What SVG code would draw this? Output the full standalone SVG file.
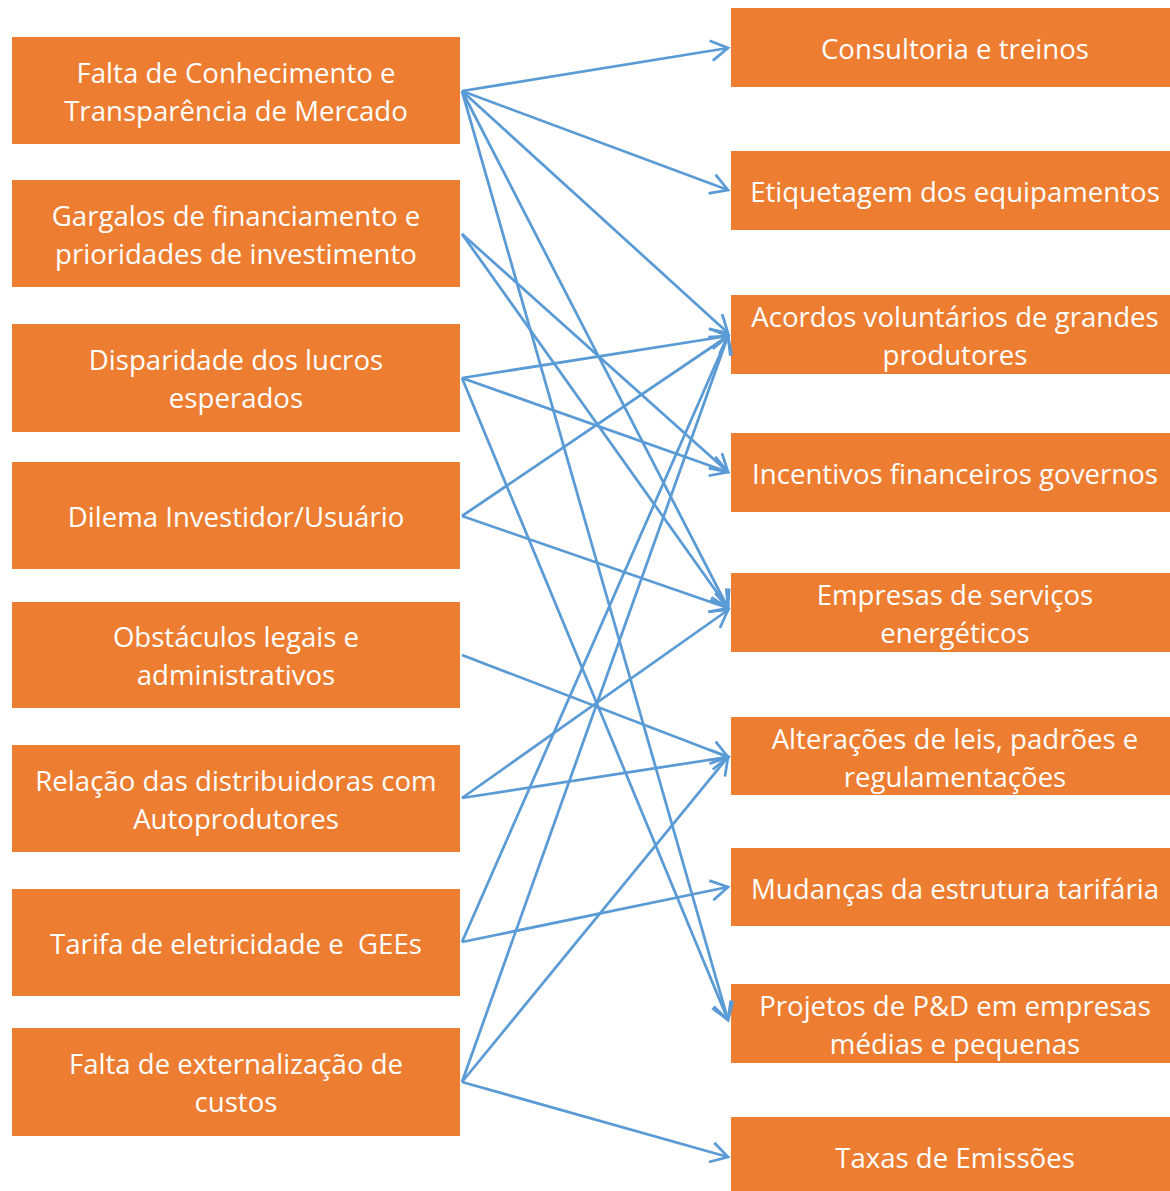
<svg xmlns="http://www.w3.org/2000/svg" width="1170" height="1191" viewBox="0 0 1170 1191">
<style>
.box{fill:#ED7D31;}
.t{fill:#FFFFFF;font-family:"Open Sans","Noto Sans","Liberation Sans",sans-serif;font-size:27.6px;text-anchor:middle;white-space:pre;}
.c{stroke:#5B9BD5;stroke-width:2.75;fill:none;marker-end:url(#arr);}
</style>
<defs>
<marker id="arr" markerUnits="userSpaceOnUse" viewBox="-22 -13 26 26" markerWidth="26" markerHeight="26" refX="0" refY="0" orient="auto">
<path d="M-17,-10 L0,0 L-17,10" fill="none" stroke="#5B9BD5" stroke-width="2.75"/>
</marker>
</defs>
<rect width="1170" height="1191" fill="#FFFFFF"/>
<g id="left-nodes">
<g id="L1"><rect class="box" x="12" y="37" width="448" height="107"/><text class="t" x="236" y="83">Falta de Conhecimento e</text><text class="t" x="236" y="121">Transparência de Mercado</text></g>
<g id="L2"><rect class="box" x="12" y="180" width="448" height="107"/><text class="t" x="236" y="226">Gargalos de financiamento e</text><text class="t" x="236" y="264">prioridades de investimento</text></g>
<g id="L3"><rect class="box" x="12" y="324" width="448" height="108"/><text class="t" x="236" y="370">Disparidade dos lucros</text><text class="t" x="236" y="408">esperados</text></g>
<g id="L4"><rect class="box" x="12" y="462" width="448" height="107"/><text class="t" x="236" y="527">Dilema Investidor/Usuário</text></g>
<g id="L5"><rect class="box" x="12" y="602" width="448" height="106"/><text class="t" x="236" y="647">Obstáculos legais e</text><text class="t" x="236" y="685">administrativos</text></g>
<g id="L6"><rect class="box" x="12" y="745" width="448" height="107"/><text class="t" x="236" y="791">Relação das distribuidoras com</text><text class="t" x="236" y="829">Autoprodutores</text></g>
<g id="L7"><rect class="box" x="12" y="889" width="448" height="107"/><text class="t" x="236" y="954">Tarifa de eletricidade e  GEEs</text></g>
<g id="L8"><rect class="box" x="12" y="1028" width="448" height="108"/><text class="t" x="236" y="1074">Falta de externalização de</text><text class="t" x="236" y="1112">custos</text></g>
</g>
<g id="right-nodes">
<g id="R1"><rect class="box" x="731" y="8" width="448" height="79"/><text class="t" x="955" y="59">Consultoria e treinos</text></g>
<g id="R2"><rect class="box" x="731" y="151" width="448" height="79"/><text class="t" x="955" y="202">Etiquetagem dos equipamentos</text></g>
<g id="R3"><rect class="box" x="731" y="295" width="448" height="79"/><text class="t" x="955" y="327">Acordos voluntários de grandes</text><text class="t" x="955" y="365">produtores</text></g>
<g id="R4"><rect class="box" x="731" y="433" width="448" height="79"/><text class="t" x="955" y="484">Incentivos financeiros governos</text></g>
<g id="R5"><rect class="box" x="731" y="573" width="448" height="79"/><text class="t" x="955" y="605">Empresas de serviços</text><text class="t" x="955" y="643">energéticos</text></g>
<g id="R6"><rect class="box" x="731" y="717" width="448" height="78"/><text class="t" x="955" y="749">Alterações de leis, padrões e</text><text class="t" x="955" y="787">regulamentações</text></g>
<g id="R7"><rect class="box" x="731" y="848" width="448" height="78"/><text class="t" x="955" y="899">Mudanças da estrutura tarifária</text></g>
<g id="R8"><rect class="box" x="731" y="984" width="448" height="79"/><text class="t" x="955" y="1016">Projetos de P&amp;D em empresas</text><text class="t" x="955" y="1054">médias e pequenas</text></g>
<g id="R9"><rect class="box" x="731" y="1117" width="448" height="80"/><text class="t" x="955" y="1168">Taxas de Emissões</text></g>
</g>
<g id="connectors">
<line class="c" x1="462" y1="91" x2="728" y2="48"/>
<line class="c" x1="462" y1="91" x2="728" y2="190"/>
<line class="c" x1="462" y1="91" x2="728" y2="333"/>
<line class="c" x1="462" y1="91" x2="728" y2="608"/>
<line class="c" x1="462" y1="91" x2="728" y2="1020"/>
<line class="c" x1="462" y1="234" x2="728" y2="472"/>
<line class="c" x1="462" y1="234" x2="728" y2="608"/>
<line class="c" x1="462" y1="378" x2="728" y2="336"/>
<line class="c" x1="462" y1="378" x2="728" y2="472"/>
<line class="c" x1="462" y1="378" x2="728" y2="1020"/>
<line class="c" x1="462" y1="516" x2="728" y2="336"/>
<line class="c" x1="462" y1="516" x2="728" y2="608"/>
<line class="c" x1="462" y1="655" x2="728" y2="757"/>
<line class="c" x1="462" y1="798" x2="728" y2="610"/>
<line class="c" x1="462" y1="798" x2="728" y2="757"/>
<line class="c" x1="462" y1="942" x2="728" y2="336"/>
<line class="c" x1="462" y1="942" x2="728" y2="887"/>
<line class="c" x1="462" y1="1082" x2="728" y2="336"/>
<line class="c" x1="462" y1="1082" x2="728" y2="757"/>
<line class="c" x1="462" y1="1082" x2="728" y2="1157"/>
</g>
</svg>
